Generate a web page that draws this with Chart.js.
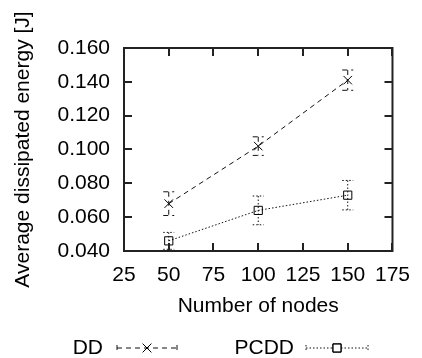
<!DOCTYPE html>
<html>
<head>
<meta charset="utf-8">
<script src="https://cdn.jsdelivr.net/npm/chart.js@4/dist/chart.umd.min.js"></script>
<style>
  html, body { margin: 0; padding: 0; background: #fff; }
  #wrap { width: 422px; height: 358px; }
</style>
</head>
<body>
<div id="wrap"><canvas id="chart"></canvas></div>
<script>
// datos
const nodes = [50, 100, 150];
const ddEnergy = [0.068, 0.102, 0.141];
const ddError = [0.007, 0.0055, 0.006];
const pcddEnergy = [0.046, 0.064, 0.073];
const pcddError = [0.005, 0.0085, 0.0087];
const seriesNames = ['DD', 'PCDD'];
const xTicks = [25, 50, 75, 100, 125, 150, 175];
const yTicks = [0.040, 0.060, 0.080, 0.100, 0.120, 0.140, 0.160];

const FONT = 'Liberation Sans, Arial, Helvetica, sans-serif';

const errors = [ddError, pcddError];
const dashes = [[5, 4], [1.5, 2]];

// barras de error, marco con ticks hacia dentro y leyenda estilo gnuplot
const gnuplotLook = {
  id: 'gnuplotLook',
  afterDatasetsDraw(chart) {
    const { ctx, chartArea: a, scales: { x, y } } = chart;
    ctx.save();
    ctx.beginPath();
    ctx.rect(a.left, a.top, a.right - a.left, a.bottom - a.top);
    ctx.clip();
    chart.data.datasets.forEach((ds, i) => {
      ctx.strokeStyle = ds.borderColor;
      ctx.lineWidth = 1;
      ctx.setLineDash(dashes[i]);
      ds.data.forEach((p, j) => {
        const px = x.getPixelForValue(p.x);
        const y1 = y.getPixelForValue(p.y + errors[i][j]);
        const y2 = y.getPixelForValue(p.y - errors[i][j]);
        ctx.beginPath();
        ctx.moveTo(px, y1); ctx.lineTo(px, y2);
        ctx.moveTo(px - 5.5, y1); ctx.lineTo(px + 5.5, y1);
        ctx.moveTo(px - 5.5, y2); ctx.lineTo(px + 5.5, y2);
        ctx.stroke();
      });
    });
    ctx.restore();

    // marco
    ctx.save();
    ctx.strokeStyle = '#222';
    ctx.lineWidth = 2;
    ctx.strokeRect(a.left, a.top, a.right - a.left, a.bottom - a.top);
    ctx.beginPath();
    xTicks.forEach(v => {
      const px = Math.round(x.getPixelForValue(v));
      ctx.moveTo(px, a.bottom); ctx.lineTo(px, a.bottom - 8);
      ctx.moveTo(px, a.top); ctx.lineTo(px, a.top + 8);
    });
    yTicks.forEach(v => {
      const py = Math.round(y.getPixelForValue(v));
      ctx.moveTo(a.left, py); ctx.lineTo(a.left + 8, py);
      ctx.moveTo(a.right, py); ctx.lineTo(a.right - 8, py);
    });
    ctx.stroke();
    ctx.restore();

    // leyenda
    const legendY = 348;
    const items = [{ textRight: 103, x0: 117, x1: 177 }, { textRight: 294, x0: 306, x1: 368 }];
    ctx.save();
    chart.data.datasets.forEach((ds, i) => {
      const it = items[i];
      ctx.font = '21px ' + FONT;
      ctx.fillStyle = '#000';
      ctx.textAlign = 'right';
      ctx.textBaseline = 'middle';
      ctx.fillText(ds.label, it.textRight, legendY);
      ctx.strokeStyle = ds.borderColor;
      ctx.lineWidth = 1;
      ctx.setLineDash(dashes[i]);
      ctx.beginPath();
      ctx.moveTo(it.x0, legendY); ctx.lineTo(it.x1, legendY);
      ctx.moveTo(it.x0, legendY - 3); ctx.lineTo(it.x0, legendY + 3);
      ctx.moveTo(it.x1, legendY - 3); ctx.lineTo(it.x1, legendY + 3);
      ctx.stroke();
      ctx.setLineDash([]);
      const cx = (it.x0 + it.x1) / 2;
      ctx.fillStyle = '#fff';
      if (ds.pointStyle === 'rect') ctx.fillRect(cx - 4, legendY - 4, 8, 8);
      Chart.helpers.drawPoint(ctx, { pointStyle: ds.pointStyle, radius: ds.pointRadius, borderWidth: 1 }, cx, legendY);
      ctx.strokeStyle = ds.pointBorderColor;
      ctx.stroke();
    });
    ctx.restore();
  }
};

new Chart(document.getElementById('chart'), {
  type: 'line',
  data: {
    datasets: [
      {
        label: seriesNames[0],
        data: nodes.map((n, i) => ({ x: n, y: ddEnergy[i] })),
        borderColor: '#111',
        borderWidth: 1,
        borderDash: dashes[0],
        pointStyle: 'crossRot',
        pointRadius: 6,
        pointBorderColor: '#000',
        pointBorderWidth: 1,
        fill: false
      },
      {
        label: seriesNames[1],
        data: nodes.map((n, i) => ({ x: n, y: pcddEnergy[i] })),
        borderColor: '#111',
        borderWidth: 1,
        borderDash: dashes[1],
        pointStyle: 'rect',
        pointRadius: 5.8,
        pointBackgroundColor: 'rgba(255,255,255,0)',
        pointBorderColor: '#000',
        pointBorderWidth: 1,
        fill: false
      }
    ]
  },
  options: {
    responsive: true,
    maintainAspectRatio: false,
    animation: false,
    layout: { padding: { left: 0, top: 48, right: 24, bottom: 28 } },
    plugins: { legend: { display: false }, tooltip: { enabled: false } },
    scales: {
      x: {
        type: 'linear',
        min: 25, max: 175,
        afterBuildTicks: s => { s.ticks = xTicks.map(v => ({ value: v })); },
        afterFit: s => { s.height = 79; },
        grid: { display: false, drawTicks: false },
        border: { display: false },
        ticks: { color: '#000', font: { family: FONT, size: 21 }, padding: 12, maxRotation: 0 },
        title: { display: true, text: 'Number of nodes', color: '#000', font: { family: FONT, size: 21 }, padding: { top: 4, bottom: 11 } }
      },
      y: {
        min: 0.04, max: 0.16,
        afterBuildTicks: s => { s.ticks = yTicks.map(v => ({ value: v })); },
        afterFit: s => { s.width = 124; },
        grid: { display: false, drawTicks: false },
        border: { display: false },
        ticks: { color: '#000', font: { family: FONT, size: 21 }, padding: 14, callback: v => v.toFixed(3) },
        title: { display: true, text: 'Average dissipated energy [J]', color: '#000', font: { family: FONT, size: 21 }, padding: 11 }
      }
    }
  },
  plugins: [gnuplotLook]
});
</script>
</body>
</html>
